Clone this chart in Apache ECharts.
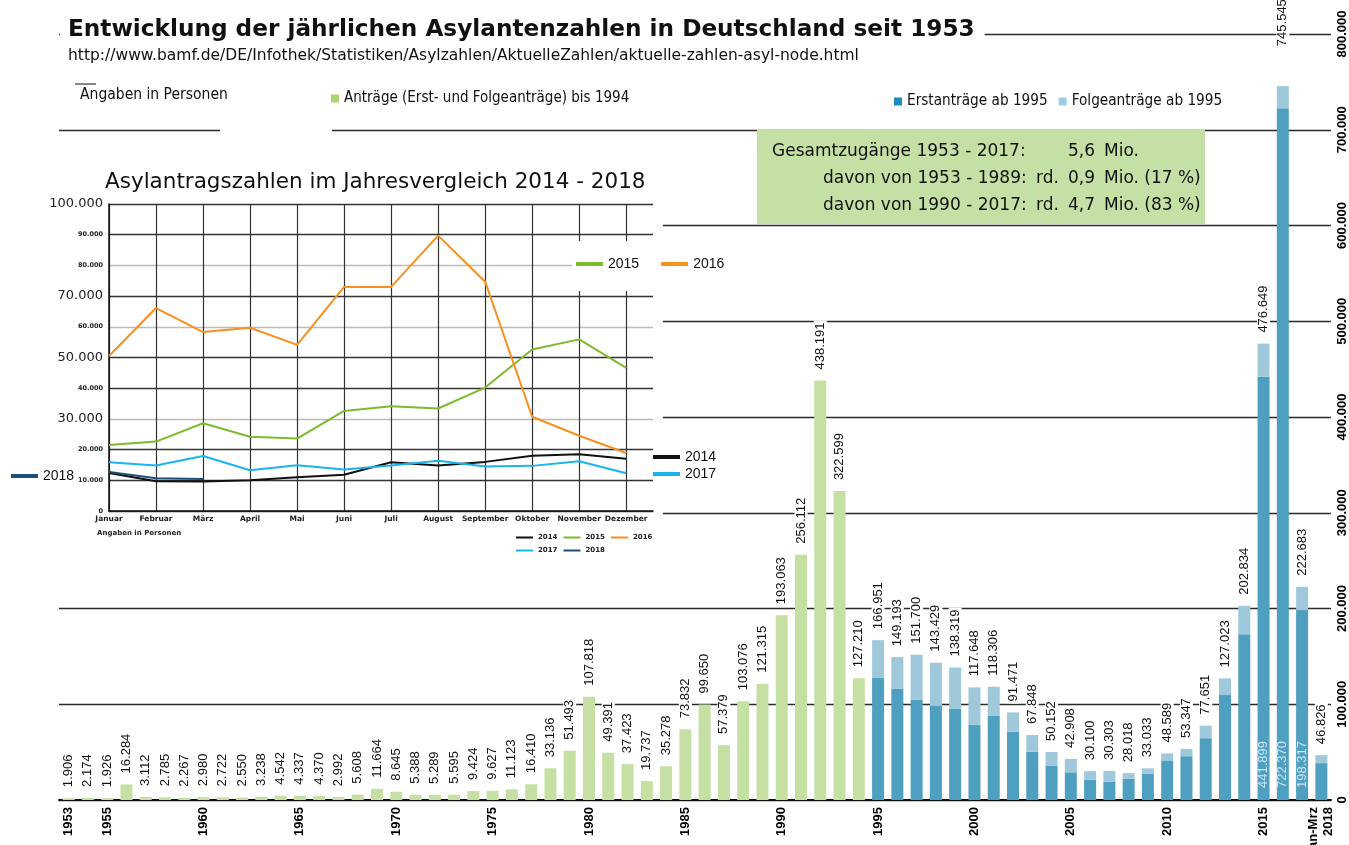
<!DOCTYPE html>
<html>
<head>
<meta charset="utf-8">
<script src="https://cdn.jsdelivr.net/npm/echarts@6/dist/echarts.min.js"></script>
<style>
  html, body { margin: 0; padding: 0; background: #fff; }
  #chart { width: 1349px; height: 845px; }
</style>
</head>
<body>
<div id="chart"></div>
<script>
// Jahre (Kategorien der Hauptgrafik)
const categories = [
  '1953','1954','1955','1956','1957','1958','1959','1960','1961','1962',
  '1963','1964','1965','1966','1967','1968','1969','1970','1971','1972',
  '1973','1974','1975','1976','1977','1978','1979','1980','1981','1982',
  '1983','1984','1985','1986','1987','1988','1989','1990','1991','1992',
  '1993','1994','1995','1996','1997','1998','1999','2000','2001','2002',
  '2003','2004','2005','2006','2007','2008','2009','2010','2011','2012',
  '2013','2014','2015','2016','2017','Jan-Mrz\n2018'
];
const shownYears = ['1953','1955','1960','1965','1970','1975','1980','1985','1990',
  '1995','2000','2005','2010','2015','Jan-Mrz\n2018'];

// Anträge 1953 - 1994
const greenValues = [
  1906, 2174, 1926, 16284, 3112, 2785, 2267, 2980, 2722, 2550,
  3238, 4542, 4337, 4370, 2992, 5608, 11664, 8645, 5388, 5289,
  5595, 9424, 9627, 11123, 16410, 33136, 51493, 107818, 49391, 37423,
  19737, 35278, 73832, 99650, 57379, 103076, 121315, 193063, 256112, 438191,
  322599, 127210
];
// ab 1995: Summe, Erstanträge, Folgeanträge
const blueTotals = [
  166951, 149193, 151700, 143429, 138319, 117648, 118306, 91471, 67848, 50152,
  42908, 30100, 30303, 28018, 33033, 48589, 53347, 77651, 127023, 202834,
  476649, 745545, 222683, 46826
];
const erstValues = [
  127937, 116367, 104353, 98644, 95113, 78564, 88287, 71127, 50563, 35607,
  28914, 21029, 19164, 22085, 27649, 41332, 45741, 64539, 109580, 173072,
  441899, 722370, 198317, 38500
];
const folgeValues = [
  39014, 32826, 47347, 44785, 43206, 39084, 30019, 20344, 17285, 14545,
  13994, 9071, 11139, 5933, 5384, 7257, 7606, 13112, 17443, 29762,
  34750, 23175, 24366, 8326
];
const insideLabelCats = ['2015', '2016', '2017'];
// Beschriftung 2016 sitzt im Original weiter oben
const labelDistance = { '2016': 38 };

// Inset: Monatswerte
const months = ['Januar','Februar','März','April','Mai','Juni','Juli','August','September','Oktober','November','Dezember'];
const m2014 = [12400, 9700, 9600, 10000, 11000, 11800, 15900, 14800, 16000, 18000, 18500, 17000];
const m2015 = [21500, 22600, 28600, 24200, 23600, 32600, 34100, 33400, 40200, 52600, 55900, 46600];
const m2016 = [50500, 66100, 58300, 59700, 54100, 73000, 73000, 89700, 74700, 30700, 24500, 18900];
const m2017 = [15900, 14800, 17900, 13300, 14900, 13500, 14800, 16400, 14500, 14700, 16200, 12300];
const m2018 = [12700, 10700, 10400];
const bigInsetTicks = [30000, 50000, 70000, 100000];

const fmt = v => String(v).replace(/\B(?=(\d{3})+(?!\d))/g, '.');
const nullsGreen = blueTotals.map(() => null);
const nullsBlue = greenValues.map(() => null);
const allTotals = greenValues.concat(blueTotals);

const NARROW = "'Liberation Sans Narrow', 'DejaVu Sans Condensed', 'Liberation Sans', sans-serif";
const SANS = "'Liberation Sans', Arial, sans-serif";
const DEJA = "'DejaVu Sans', sans-serif";

const barLabel = {
  show: true,
  position: 'top',
  rotate: 90,
  align: 'left',
  verticalAlign: 'middle',
  distance: 9,
  color: '#111',
  fontSize: 13,
  fontFamily: SANS,
  backgroundColor: '#fff',
  padding: [0, 2]
};

const folgeData = nullsBlue.concat(folgeValues).map((v, i) =>
  labelDistance[categories[i]] ? { value: v, label: { distance: labelDistance[categories[i]] } } : v
);

const chart = echarts.init(document.getElementById('chart'));

const insetLine = (name, data, color) => ({
  name: name,
  type: 'line',
  xAxisIndex: 1,
  yAxisIndex: 1,
  symbol: 'none',
  color: color,
  lineStyle: { color: color, width: 2 },
  data: data.map((v, i) => [i, v]),
  z: 3
});

const boxText = (x, y, text) => ({
  type: 'text', z: 6, x: x, y: y,
  style: { text: text, font: '17px ' + DEJA, fill: '#111', verticalAlign: 'middle' }
});

const option = {
  animation: false,
  backgroundColor: '#fff',
  title: {
    text: 'Entwicklung der jährlichen Asylantenzahlen in Deutschland seit 1953',
    subtext: 'http://www.bamf.de/DE/Infothek/Statistiken/Asylzahlen/AktuelleZahlen/aktuelle-zahlen-asyl-node.html',
    left: 60,
    top: 14,
    itemGap: 7,
    padding: [4, 10, 2, 8],
    backgroundColor: '#fff',
    textStyle: { fontSize: 23.2, fontWeight: 'bold', color: '#111', fontFamily: DEJA },
    subtextStyle: { fontSize: 15.5, color: '#111', fontFamily: DEJA }
  },
  legend: [
    {
      left: 326, top: 86,
      data: [{ name: 'Anträge (Erst- und Folgeanträge) bis 1994', itemStyle: { color: '#a9d46f' } }],
      icon: 'rect', itemWidth: 8, itemHeight: 8,
      textStyle: { fontSize: 15, color: '#111', fontFamily: NARROW }
    },
    {
      left: 889, top: 89,
      data: [
        { name: 'Erstanträge ab 1995', itemStyle: { color: '#1a8cc4' } },
        { name: 'Folgeanträge ab 1995', itemStyle: { color: '#9dcfe3' } }
      ],
      icon: 'rect', itemWidth: 8, itemHeight: 8, itemGap: 11,
      textStyle: { fontSize: 15.2, color: '#111', fontFamily: NARROW }
    },
    {
      left: 572, top: 241,
      data: ['2015', '2016'],
      icon: 'rect', itemWidth: 27, itemHeight: 4, itemGap: 22,
      padding: [16, 6, 20, 4],
      backgroundColor: '#fff',
      textStyle: { fontSize: 14, color: '#111', fontFamily: SANS }
    },
    {
      left: 648, top: 445, orient: 'vertical',
      data: ['2014', '2017'],
      icon: 'rect', itemWidth: 27, itemHeight: 4, itemGap: 3,
      textStyle: { fontSize: 14, color: '#111', fontFamily: SANS }
    },
    {
      left: 6, top: 464,
      data: ['2018'],
      icon: 'rect', itemWidth: 27, itemHeight: 4,
      textStyle: { fontSize: 14, color: '#111', fontFamily: SANS }
    },
    {
      left: 511, top: 529, width: 150,
      data: ['2014', '2015', '2016', '2017', '2018'],
      icon: 'rect', itemWidth: 17, itemHeight: 2, itemGap: 6,
      textStyle: { fontSize: 7, fontWeight: 'bold', color: '#222', fontFamily: DEJA }
    }
  ],
  grid: [
    { left: 59, right: 18, top: 34, bottom: 45, outerBoundsMode: 'none', containLabel: false },
    { left: 109, top: 204, width: 544, height: 307, outerBoundsMode: 'none', containLabel: false }
  ],
  xAxis: [
    {
      type: 'category',
      gridIndex: 0,
      data: categories,
      axisLine: { lineStyle: { color: '#111', width: 2 } },
      axisTick: { show: false },
      axisLabel: {
        interval: 0,
        rotate: 90,
        margin: 7,
        fontSize: 13,
        fontWeight: 'bold',
        color: '#000',
        fontFamily: SANS,
        lineHeight: 15,
        formatter: v => (shownYears.includes(v) ? v : '')
      },
      z: 0
    },
    {
      type: 'value',
      gridIndex: 1,
      min: 0,
      max: 11.57,
      interval: 1,
      axisLine: { lineStyle: { color: '#111', width: 1.5 } },
      axisTick: { show: false },
      splitLine: { show: true, showMaxLine: false, lineStyle: { color: '#333', width: 1.2 } },
      axisLabel: {
        margin: 4,
        fontSize: 7.5,
        fontWeight: 'bold',
        color: '#222',
        fontFamily: DEJA,
        showMaxLabel: false,
        formatter: v => months[v] || ''
      },
      z: 2
    }
  ],
  yAxis: [
    {
      type: 'value',
      gridIndex: 0,
      position: 'right',
      min: 0,
      max: 800000,
      interval: 100000,
      axisLine: { show: false },
      axisTick: { show: false },
      splitLine: { lineStyle: { color: '#2a2a2a', width: 1.3 } },
      axisLabel: {
        rotate: 90,
        margin: 5,
        fontSize: 13,
        fontWeight: 'bold',
        color: '#000',
        fontFamily: SANS,
        formatter: v => fmt(v)
      },
      z: 0
    },
    {
      type: 'value',
      gridIndex: 1,
      min: 0,
      max: 100000,
      interval: 10000,
      axisLine: { show: true, lineStyle: { color: '#111', width: 1.5 } },
      axisTick: { show: false },
      splitLine: {
        lineStyle: {
          color: ['#333', '#333', '#333', '#bbb', '#333', '#333', '#bbb', '#333', '#bbb', '#333', '#333'],
          width: 1.3
        }
      },
      axisLabel: {
        margin: 6,
        formatter: v => (bigInsetTicks.includes(v) ? '{b|' : '{s|') + fmt(v) + '}',
        rich: {
          b: { fontSize: 13, color: '#222', fontFamily: DEJA },
          s: { fontSize: 6.5, fontWeight: 'bold', color: '#222', fontFamily: DEJA }
        }
      },
      z: 2
    }
  ],
  graphic: [
    // weisser Hintergrund der eingebetteten Grafik
    { type: 'rect', z: 1, shape: { x: 0, y: 150, width: 663, height: 405 }, style: { fill: '#fff' } },
    { type: 'rect', z: 1, shape: { x: 220, y: 124, width: 112, height: 12 }, style: { fill: '#fff' } },
    { type: 'line', z: 5, shape: { x1: 75, y1: 84, x2: 96, y2: 84 }, style: { stroke: '#111', lineWidth: 1 } },
    { type: 'text', z: 5, x: 80, y: 95, style: { text: 'Angaben in Personen', font: '15.5px ' + NARROW, fill: '#111', verticalAlign: 'middle' } },
    { type: 'text', z: 5, x: 105, y: 182, style: { text: 'Asylantragszahlen im Jahresvergleich 2014 - 2018', font: '21.5px ' + DEJA, fill: '#111', verticalAlign: 'middle' } },
    { type: 'text', z: 5, x: 97, y: 533, style: { text: 'Angaben in Personen', font: 'bold 7px ' + DEJA, fill: '#222', verticalAlign: 'middle' } },
    {
      type: 'group',
      z: 5,
      children: [
        { type: 'rect', z: 5, shape: { x: 757, y: 129, width: 448, height: 95 }, style: { fill: '#c5e0a5' } },
        boxText(772, 152, 'Gesamtzugänge 1953 - 2017:'),
        boxText(1068, 152, '5,6'),
        boxText(1104, 152, 'Mio.'),
        boxText(823, 179, 'davon von 1953 - 1989:'),
        boxText(1036, 179, 'rd.'),
        boxText(1068, 179, '0,9'),
        boxText(1104, 179, 'Mio. (17 %)'),
        boxText(823, 206, 'davon von 1990 - 2017:'),
        boxText(1036, 206, 'rd.'),
        boxText(1068, 206, '4,7'),
        boxText(1104, 206, 'Mio. (83 %)')
      ]
    }
  ],
  series: [
    {
      name: 'Anträge (Erst- und Folgeanträge) bis 1994',
      type: 'bar',
      xAxisIndex: 0,
      yAxisIndex: 0,
      barWidth: 12,
      barGap: '-100%',
      itemStyle: { color: '#c6e0a3' },
      label: Object.assign({}, barLabel, { formatter: p => fmt(p.value) }),
      data: greenValues.concat(nullsGreen),
      z: 2
    },
    {
      name: 'Erstanträge ab 1995',
      type: 'bar',
      stack: 'blau',
      xAxisIndex: 0,
      yAxisIndex: 0,
      barWidth: 12,
      itemStyle: { color: '#4f9fc0' },
      label: {
        show: true,
        position: 'insideBottom',
        rotate: 90,
        align: 'left',
        verticalAlign: 'middle',
        distance: 12,
        color: '#cfe6f1',
        fontSize: 13,
        fontFamily: SANS,
        formatter: p => (insideLabelCats.includes(p.name) ? fmt(p.value) : '')
      },
      data: nullsBlue.concat(erstValues),
      z: 2
    },
    {
      name: 'Folgeanträge ab 1995',
      type: 'bar',
      stack: 'blau',
      xAxisIndex: 0,
      yAxisIndex: 0,
      barWidth: 12,
      itemStyle: { color: '#9fc9db' },
      label: Object.assign({}, barLabel, { formatter: p => fmt(allTotals[p.dataIndex]) }),
      data: folgeData,
      z: 2
    },
    insetLine('2014', m2014, '#111111'),
    insetLine('2015', m2015, '#7cbb2e'),
    insetLine('2016', m2016, '#f7901e'),
    insetLine('2017', m2017, '#19b6ee'),
    insetLine('2018', m2018, '#1c4f78')
  ]
};

chart.setOption(option);
window.addEventListener('resize', () => chart.resize());
</script>
</body>
</html>
